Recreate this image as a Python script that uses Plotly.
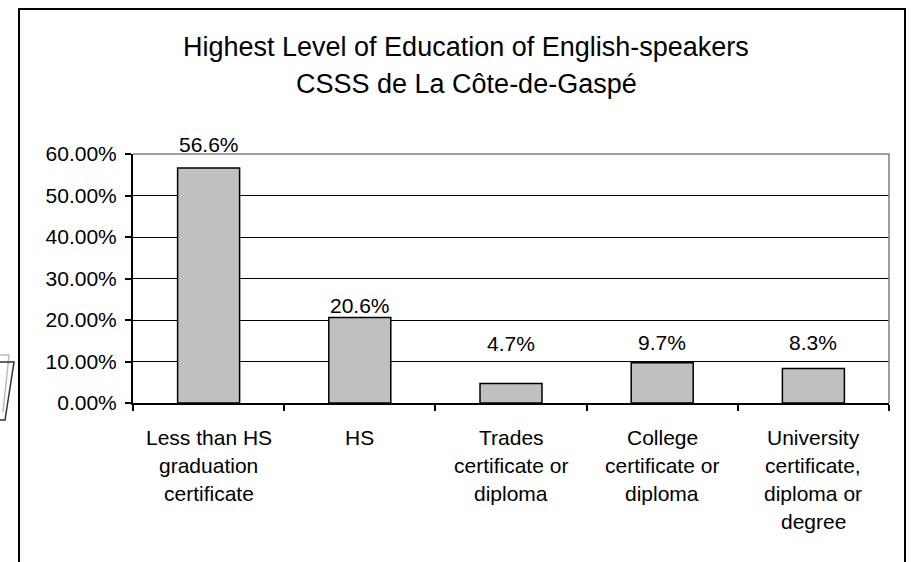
import plotly.graph_objects as go

categories = ["Less than HS graduation certificate", "HS", "Trades certificate or diploma",
              "College certificate or diploma", "University certificate, diploma or degree"]
category_lines = [["Less than HS", "graduation", "certificate"],
                  ["HS"],
                  ["Trades", "certificate or", "diploma"],
                  ["College", "certificate or", "diploma"],
                  ["University", "certificate,", "diploma or", "degree"]]
values = [0.566, 0.206, 0.047, 0.097, 0.083]
value_labels = ["56.6%", "20.6%", "4.7%", "9.7%", "8.3%"]
title_lines = ["Highest Level of Education of English-speakers", "CSSS de La Côte-de-Gaspé"]

# pixel offsets of data labels above bar tops (label placement)
label_offset_px = [24, 12, 40, 20, 26]

W, H = 912, 562
L, R, T, B = 133, 889, 154, 403
pw, ph = R - L, B - T

def px_x(x):
    return (x - L) / pw

def px_y(y):
    return (B - y) / ph

FONT = "Liberation Sans, Arial, sans-serif"
TICK_SIZE = 21

fig = go.Figure()
fig.add_trace(go.Bar(
    x=categories, y=values, width=0.41,
    marker=dict(color="#C0C0C0", line=dict(color="black", width=1.5)),
    hoverinfo="skip",
))

ann = []
for i, (c, v, t) in enumerate(zip(categories, values, value_labels)):
    ann.append(dict(x=c, y=v, xref="x", yref="y", text=t, showarrow=False,
                    yanchor="middle", yshift=label_offset_px[i],
                    font=dict(family=FONT, size=TICK_SIZE, color="black")))
    for j, line in enumerate(category_lines[i]):
        ann.append(dict(x=c, y=0, xref="x", yref="paper", text=line, showarrow=False,
                        yanchor="middle", yshift=-(34 + 28 * j),
                        font=dict(family=FONT, size=TICK_SIZE, color="black")))

title_y_px = [47, 84]
for s, yp in zip(title_lines, title_y_px):
    ann.append(dict(x=px_x(466), y=px_y(yp), xref="paper", yref="paper", text=s,
                    showarrow=False, yanchor="middle", xanchor="center",
                    font=dict(family=FONT, size=27, color="black")))

shapes = [
    # outer chart border
    dict(type="rect", xref="paper", yref="paper",
         x0=px_x(19), x1=px_x(905), y0=px_y(600), y1=px_y(9),
         line=dict(color="black", width=2), fillcolor="rgba(0,0,0,0)", layer="below"),
    # gray plot-area border (top / right)
    dict(type="path", xref="paper", yref="paper",
         path="M 0,1 L 1,1 L 1,0", line=dict(color="#808080", width=1.5), layer="above"),
    # stray artifact at left edge
    dict(type="path", xref="paper", yref="paper",
         path=f"M {px_x(0)},{px_y(355)} L {px_x(9)},{px_y(355)} L {px_x(3)},{px_y(412)}",
         line=dict(color="#BBBBBB", width=1.5)),
    dict(type="path", xref="paper", yref="paper",
         path=f"M {px_x(0)},{px_y(362)} L {px_x(14)},{px_y(362)} L {px_x(5)},{px_y(420)} L {px_x(0)},{px_y(420)}",
         line=dict(color="#333333", width=1.5)),
]

fig.update_layout(
    width=W, height=H,
    margin=dict(l=L, r=W - R, t=T, b=H - B, pad=0),
    paper_bgcolor="white", plot_bgcolor="white",
    showlegend=False,
    annotations=ann, shapes=shapes,
    font=dict(family=FONT, size=TICK_SIZE, color="black"),
)
fig.update_xaxes(
    showticklabels=False, showline=True, linecolor="black", linewidth=2,
    ticks="outside", tickson="boundaries", ticklen=6, tickcolor="black", tickwidth=2,
    showgrid=False, range=[-0.5, 4.5], fixedrange=True,
)
fig.update_yaxes(
    range=[0, 0.6], dtick=0.1, tickformat=".2%",
    showline=True, linecolor="black", linewidth=2,
    ticks="outside", ticklen=6, tickcolor="black", tickwidth=2,
    showgrid=True, gridcolor="black", gridwidth=1, zeroline=False,
    tickfont=dict(family=FONT, size=TICK_SIZE, color="black"), ticklabelstandoff=4,
    fixedrange=True,
)

fig.write_html("out.html", config={"displayModeBar": False},
               post_script="document.body.style.margin='0';document.body.style.overflow='hidden';")
